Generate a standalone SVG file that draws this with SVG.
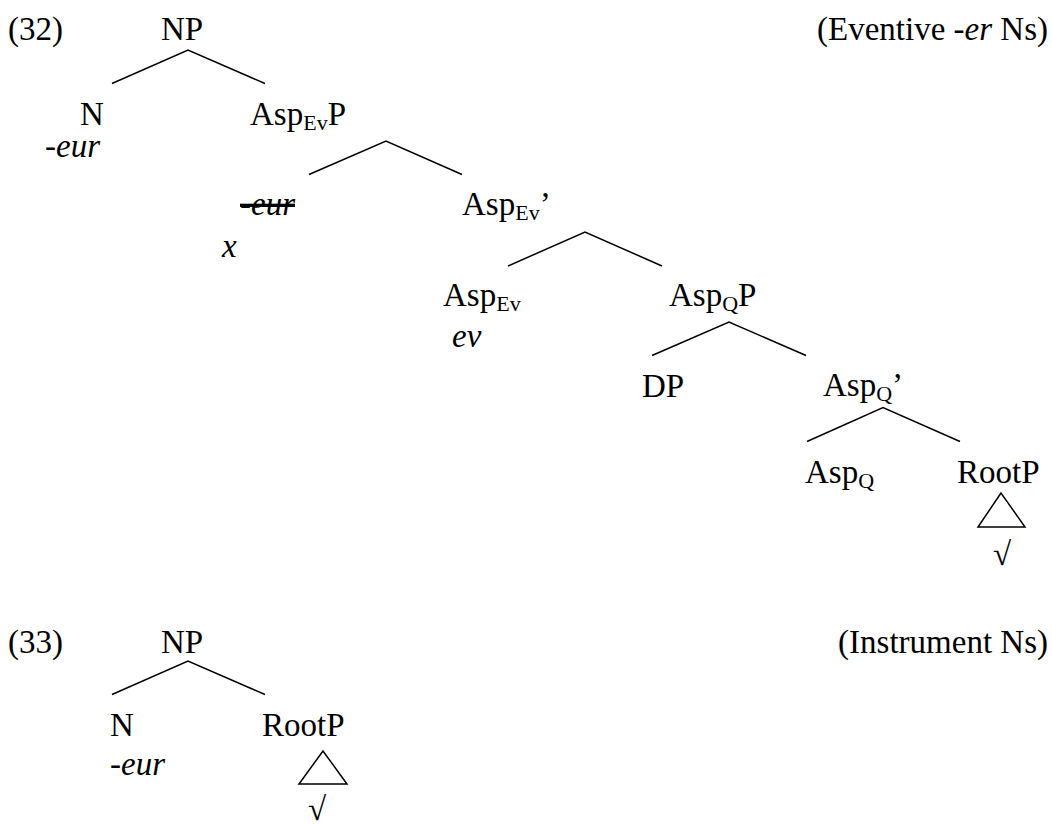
<svg xmlns="http://www.w3.org/2000/svg" width="1052" height="825" viewBox="0 0 1052 825">
<style>
text{font-family:"Liberation Serif","Times New Roman",serif;font-size:33px;fill:#000}
.it{font-style:italic}
.sub{font-size:22px}
.edge{stroke:#000;stroke-width:1.5;fill:none}
</style>
<rect width="1052" height="825" fill="#fff"/>
<g id="labels">
<text x="8" y="40">(32)</text>
<text x="1048" y="40" text-anchor="end">(Eventive <tspan class="it">-er</tspan> Ns)</text>
<text x="8" y="653">(33)</text>
<text x="1048" y="653" text-anchor="end">(Instrument Ns)</text>
</g>
<g id="connectors">
<path class="edge" d="M112 83.5L188 50L265 83.5"/>
<path class="edge" d="M309 174.5L386 141L462 174.5"/>
<path class="edge" d="M508 266L585 232L662 266"/>
<path class="edge" d="M652 355.5L729 322L806 355.5"/>
<path class="edge" d="M807 441.5L883 407.5L960 441.5"/>
<path class="edge" d="M1001 493L978 527H1025Z"/>
<path class="edge" d="M112 694.5L188 661L265 694.5"/>
<path class="edge" d="M323 751L299 784H347Z"/>
</g>
<g id="t32-NP"><text x="161" y="40">NP</text></g>
<g id="t32-N"><text x="80" y="125">N</text><text class="it" x="45" y="157">-eur</text></g>
<g id="t32-AspEvP"><text x="250" y="125">Asp<tspan class="sub" dy="5">Ev</tspan><tspan dy="-5">P</tspan></text></g>
<g id="t32-spec"><text class="it" x="240" y="215" text-decoration="line-through">-eur</text><text class="it" x="222" y="257">x</text></g>
<g id="t32-AspEvBar"><text x="462" y="215">Asp<tspan class="sub" dy="5">Ev</tspan><tspan dy="-5">’</tspan></text></g>
<g id="t32-AspEv"><text x="443" y="306">Asp<tspan class="sub" dy="5">Ev</tspan></text><text class="it" x="452" y="347">ev</text></g>
<g id="t32-AspQP"><text x="669" y="306">Asp<tspan class="sub" dy="5">Q</tspan><tspan dy="-5">P</tspan></text></g>
<g id="t32-DP"><text x="642" y="397">DP</text></g>
<g id="t32-AspQBar"><text x="823" y="396">Asp<tspan class="sub" dy="5">Q</tspan><tspan dy="-5">’</tspan></text></g>
<g id="t32-AspQ"><text x="805" y="483">Asp<tspan class="sub" dy="5">Q</tspan></text></g>
<g id="t32-RootP"><text x="957" y="483">RootP</text><text x="993" y="565">√</text></g>
<g id="t33-NP"><text x="161" y="653">NP</text></g>
<g id="t33-N"><text x="110" y="736">N</text><text class="it" x="110" y="775">-eur</text></g>
<g id="t33-RootP"><text x="262" y="736">RootP</text><text x="308" y="820">√</text></g>
</svg>
